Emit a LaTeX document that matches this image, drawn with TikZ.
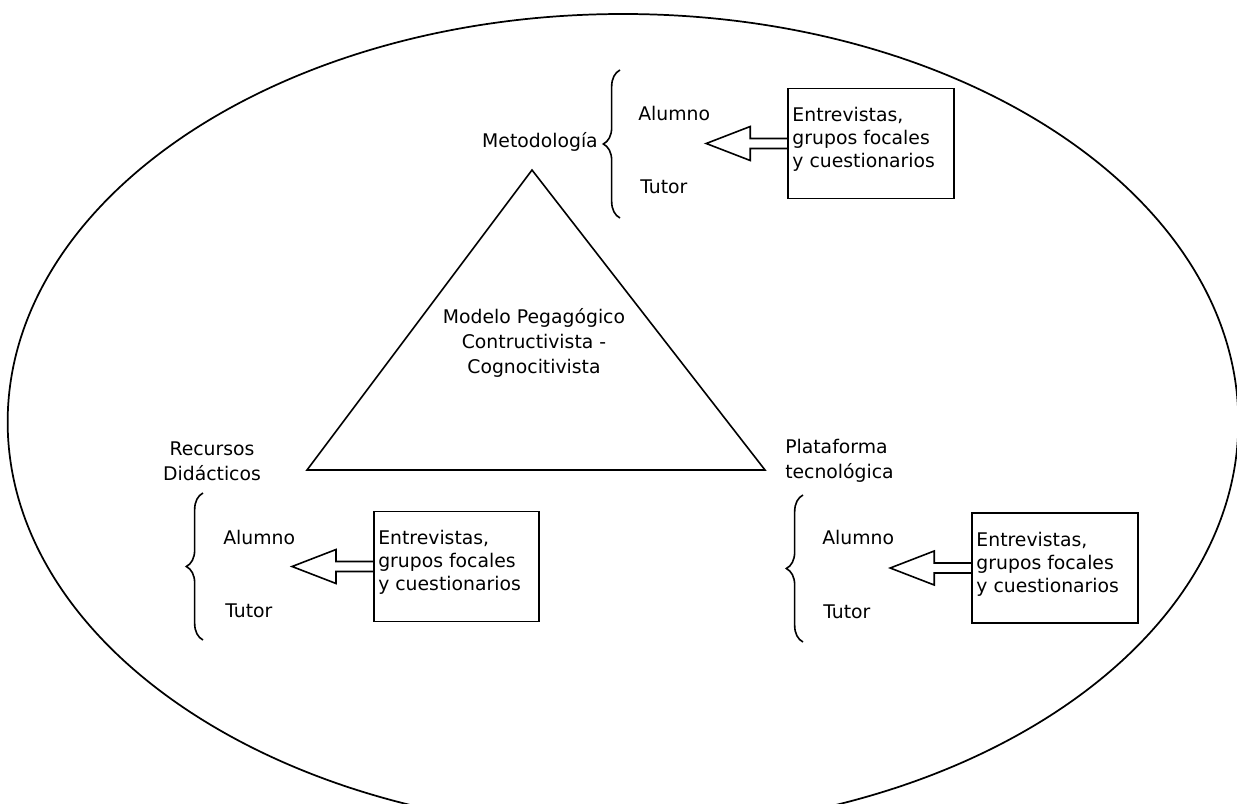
\documentclass[tikz,border=0pt]{standalone}
\usepackage{fontspec}
\setmainfont{DejaVu Sans}
\usetikzlibrary{decorations.pathreplacing,calc}
\tikzset{
  lbl/.style={inner sep=0pt, font=\fontsize{14.1pt}{18.5pt}\selectfont},
  srcbox/.style={draw, line width=1.2pt, inner sep=0pt, minimum height=82.5pt, anchor=center},
  srctext/.style={align=left, inner sep=0pt, anchor=west,
     font=\fontsize{14.1pt}{17.25pt}\selectfont},
  curly/.style={decorate, decoration={brace, amplitude=12.5pt}, line width=1.2pt},
  blockarrow/.style={line width=1.2pt, line join=miter},
  frame/.style={line width=1.3pt}
}
\begin{document}
\begin{tikzpicture}[x=0.75pt,y=-0.75pt]
\useasboundingbox (0,0) rectangle (1237,803);
\clip (0,0) rectangle (1237,803);
% outer ellipse
\draw[frame] (623,422) ellipse [x radius=461.5pt, y radius=306pt];
% central triangle
\coordinate (apex) at (532,170);
\coordinate (bl) at (307,470);
\coordinate (br) at (765,470);
\draw[line width=1.2pt] (apex) -- (bl) -- (br) -- cycle;
\node[lbl, align=center, font=\fontsize{14.1pt}{18.75pt}\selectfont] (model) at (534,343) {Modelo Pegagógico\\Contructivista -\\Cognocitivista};

% top group: Metodologia
\node[lbl, anchor=east] (met) at (598,142) {Metodología};
\coordinate (b1a) at (620,218);
\coordinate (b1b) at (620,70);
\draw[curly] (b1a) -- (b1b);
\node[lbl, anchor=west] (al1) at (638,113) {Alumno};
\node[lbl, anchor=west] (tu1) at (640,187) {Tutor};
\node[srcbox, minimum width=124.5pt] (box1) at (871,143.5) {};
\node[srctext] (t1) at ([xshift=3.75pt,yshift=3pt]box1.west) {Entrevistas,\\grupos focales\\y cuestionarios};
\draw[blockarrow] (box1.west) ++(0,5) -- ++(-37,0) -- ++(0,12) -- ++(-44,-17) -- ++(44,-17) -- ++(0,12) -- ++(37,0);

% bottom-left group: Recursos Didacticos
\node[lbl, align=center] (rec) at (212,461) {Recursos\\Didácticos};
\coordinate (b2a) at (203,640);
\coordinate (b2b) at (203,493);
\draw[curly] (b2a) -- (b2b);
\node[lbl, anchor=west] (al2) at (223,537) {Alumno};
\node[lbl, anchor=west] (tu2) at (225,611) {Tutor};
\node[srcbox, minimum width=124pt] (box2) at (456.5,566.5) {};
\node[srctext] (t2) at ([xshift=3.75pt,yshift=3pt]box2.west) {Entrevistas,\\grupos focales\\y cuestionarios};
\draw[blockarrow] (box2.west) ++(0,5) -- ++(-37,0) -- ++(0,12) -- ++(-44,-17) -- ++(44,-17) -- ++(0,12) -- ++(37,0);

% bottom-right group: Plataforma tecnologica
\node[lbl, align=left, anchor=west] (pla) at (785,461) {Plataforma\\tecnológica};
\coordinate (b3a) at (803,642);
\coordinate (b3b) at (803,495);
\draw[curly] (b3a) -- (b3b);
\node[lbl, anchor=west] (al3) at (822,537) {Alumno};
\node[lbl, anchor=west] (tu3) at (823,612) {Tutor};
\node[srcbox, minimum width=124.5pt] (box3) at (1055,568) {};
\node[srctext] (t3) at ([xshift=3.75pt,yshift=3pt]box3.west) {Entrevistas,\\grupos focales\\y cuestionarios};
\draw[blockarrow] (box3.west) ++(0,5) -- ++(-37,0) -- ++(0,12) -- ++(-44,-17) -- ++(44,-17) -- ++(0,12) -- ++(37,0);
\end{tikzpicture}
\end{document}
